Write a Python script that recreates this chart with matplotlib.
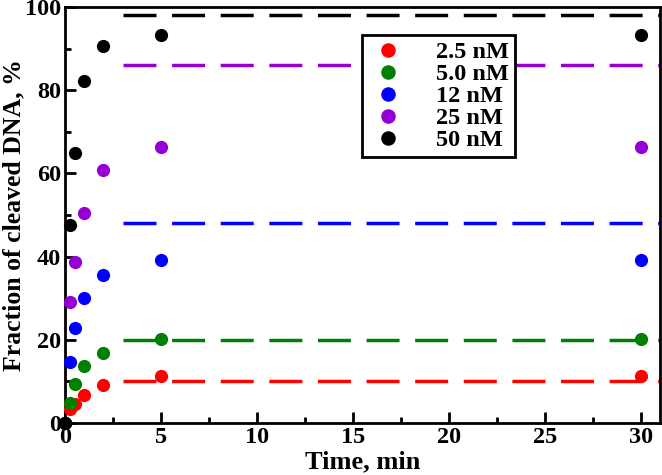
import matplotlib
matplotlib.use("Agg")
import matplotlib.pyplot as plt
from matplotlib.ticker import MultipleLocator

plt.rcParams['font.family'] = 'Liberation Serif'
plt.rcParams['font.weight'] = 'bold'

# time points, min
time = [0, 0.25, 0.5, 1, 2, 5, 30]

# fraction of cleaved DNA, % for each enzyme concentration
frac_2_5 = [0, 3.4, 4.5, 6.7, 9.2, 11.2, 11.2]
frac_5_0 = [0, 4.8, 9.3, 13.6, 16.9, 20.1, 20.1]
frac_12 = [0, 14.6, 22.8, 30.0, 35.5, 39.2, 39.2]
frac_25 = [0, 29.0, 38.7, 50.5, 60.8, 66.4, 66.4]
frac_50 = [0, 47.5, 65.0, 82.2, 90.6, 93.2, 93.2]

# plateau levels (dashed lines)
plateaus = [10, 20, 48, 86, 98]
plateau_start = 3
plateau_end = 31

labels = ['2.5 nM', '5.0 nM', '12 nM', '25 nM', '50 nM']
colors = ['#ff0000', '#008000', '#0000ff', '#9400d3', '#000000']
series = [frac_2_5, frac_5_0, frac_12, frac_25, frac_50]

fig = plt.figure(figsize=(6.62, 4.75), dpi=100)
ax = fig.add_axes([65/662, 52/475, 595/662, 416/475])

for y, lev, c, lab in zip(series, plateaus, colors, labels):
    ax.plot([plateau_start, plateau_end], [lev, lev], color=c, lw=2.5,
            dashes=(9.5, 4.5), zorder=1)
    ax.plot(time, y, 'o', color=c, ms=9.5, mec='none', label=lab, zorder=3,
            clip_on=False)

ax.set_xlim(0, 31)
ax.set_ylim(0, 100)
ax.xaxis.set_major_locator(MultipleLocator(5))
ax.xaxis.set_minor_locator(MultipleLocator(2.5))
ax.yaxis.set_major_locator(MultipleLocator(20))
ax.yaxis.set_minor_locator(MultipleLocator(10))
ax.tick_params(which='both', direction='in', width=2, labelsize=17.5,
               top=False, right=False)
ax.tick_params(which='major', length=8)
ax.tick_params(which='minor', length=4)
ax.tick_params(axis='y', pad=3)
ax.tick_params(axis='x', pad=3)
for s in ax.spines.values():
    s.set_linewidth(2)

ax.set_xlabel('Time, min', fontsize=19, fontweight='bold')
ax.set_ylabel('Fraction of cleaved DNA, %', fontsize=18.5, fontweight='bold')
ax.xaxis.set_label_coords(0.5, -27/416)
ax.yaxis.set_label_coords(-40/595, 0.5)

leg = ax.legend(loc='upper left', bbox_to_anchor=(297/595, 388/416),
                fontsize=17.5, frameon=True, fancybox=False, edgecolor='black',
                framealpha=1, handletextpad=1.2, borderpad=0.25,
                labelspacing=0.0, markerscale=1.1, handlelength=1.6,
                borderaxespad=0)
leg.get_frame().set_linewidth(2)
for t in leg.get_texts():
    t.set_fontweight('bold')

fig.savefig('out.png', dpi=100)
